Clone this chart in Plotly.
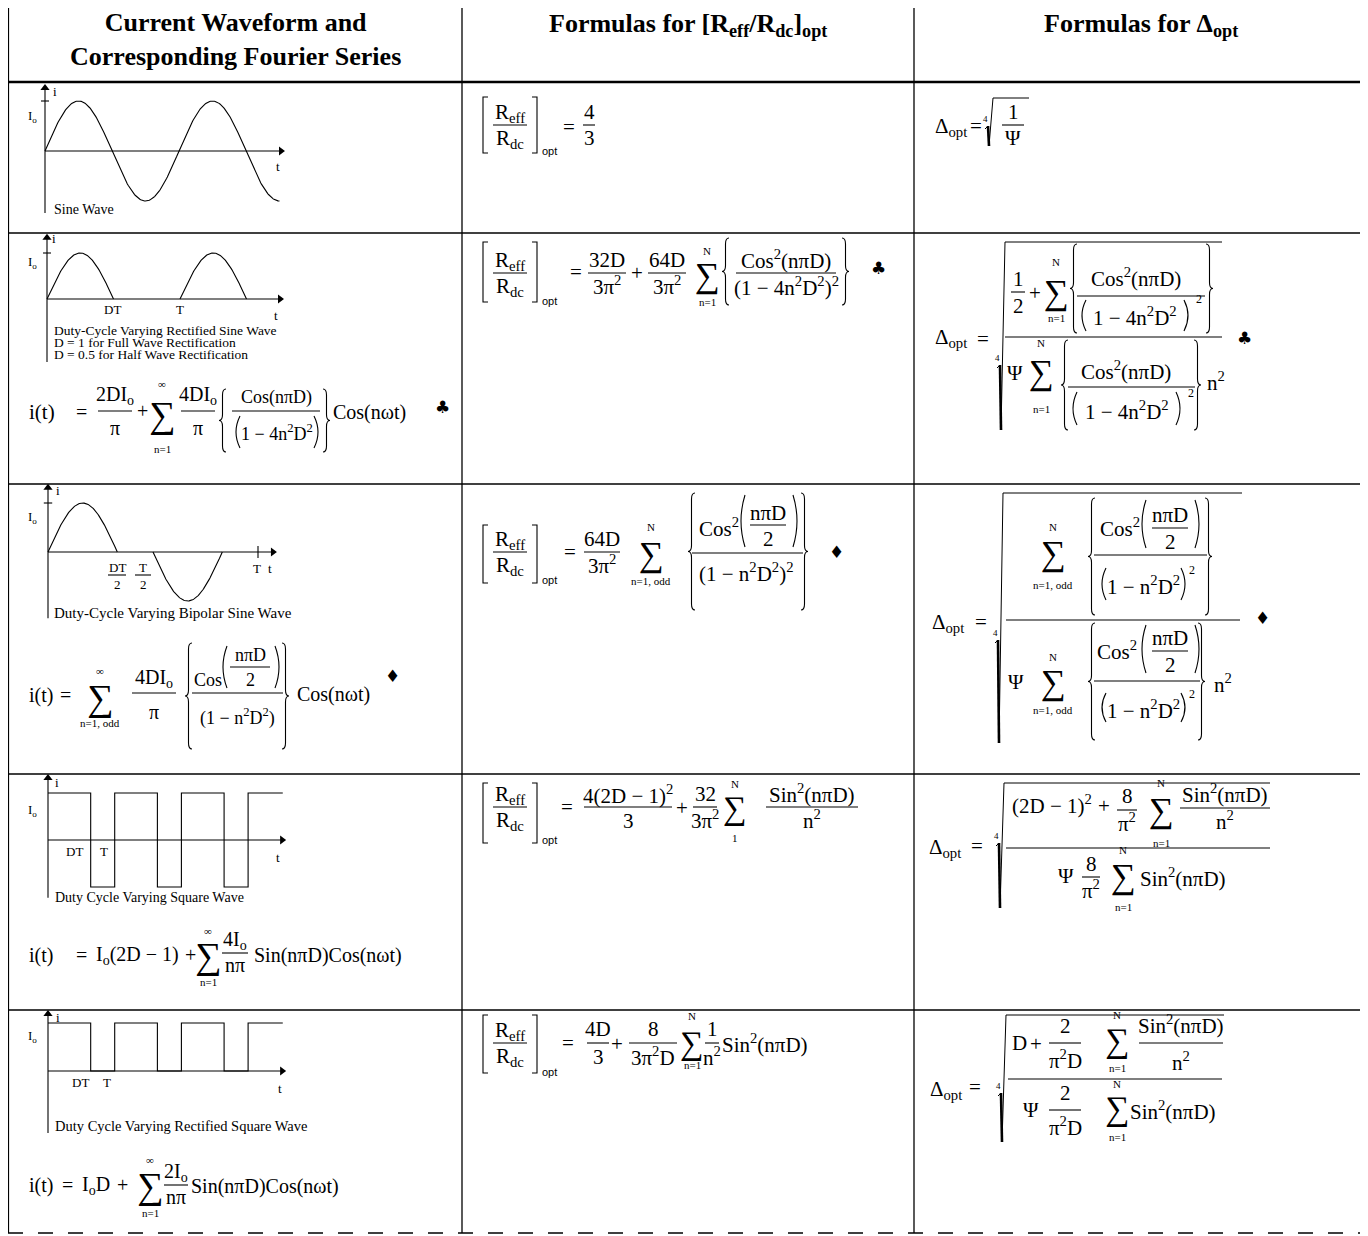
import numpy as np
import plotly.graph_objects as go

# page has an 8px body margin; the figure covers the rest of the window
OFF = 8
W, H = 1360, 1228

SERIF = "Liberation Serif"
SANS = "Liberation Sans"
SYM = "DejaVu Sans"
F = 21  # formula size, columns 2 and 3

# ---- table text
HEADERS = ["<b>Current Waveform and<br>Corresponding Fourier Series</b>",
           "<b>Formulas for [R<sub>eff</sub>/R<sub>dc</sub>]<sub>opt</sub></b>",
           "<b>Formulas for \u0394<sub>opt</sub></b>"]
CAPTIONS = ["Sine Wave",
            "Duty-Cycle Varying Rectified Sine Wave",
            "D = 1 for Full Wave Rectification",
            "D = 0.5 for Half Wave Rectification",
            "Duty-Cycle Varying Bipolar Sine Wave",
            "Duty Cycle Varying Square Wave",
            "Duty Cycle Varying Rectified Square Wave"]

# ---- waveform parameters (t in periods T, i in I_o)
SINE_END = 1.75          # sine drawn over 1.75 periods
RECT_D = 0.5             # rectified sine, duty cycle
RECT_HUMPS = [0, 1]      # hump start times
BIPOLAR_D = 0.66         # bipolar sine, duty cycle
SQUARE_D = 0.64          # square waves, duty cycle
SQUARE_PERIODS = 3
SQUARE_END = 3.52

# table grid (screen pixels)
COLS = [8, 462, 914, 1362]
ROWS = [6, 82, 233, 484, 774, 1010, 1233]

fig = go.Figure()
ann, shp = [], []
lay = {}

def txt(x, y, s, size=20, anchor="center", family=SERIF):
    ann.append(dict(x=x, y=y, xref="x", yref="y", text=s, showarrow=False,
                    xanchor=anchor, yanchor="middle",
                    font=dict(family=family, size=size, color="black")))

def path(d, w=1.1):
    shp.append(dict(type="path", path=d, xref="x", yref="y",
                    line=dict(color="black", width=w)))

def hline(x0, x1, y, w=1.1):
    shp.append(dict(type="line", x0=x0, x1=x1, y0=y, y1=y, xref="x", yref="y",
                    line=dict(color="black", width=w)))

def frac(cx, y, num, den, half, size=F, g1=13, g2=13):
    txt(cx, y - g1, num, size)
    hline(cx - half, cx + half, y)
    txt(cx, y + g2, den, size)

def sigma(cx, y, top, bot, ytop, ybot, size=35):
    # the summation glyph sits low in its box, lift it a little
    txt(cx, y - size * 0.1, "\u2211", size)
    txt(cx, ytop, top, 11)
    txt(cx, ybot, bot, 11)

def brace(x, y0, y1, side=1, w=7, r=6):
    ym = (y0 + y1) / 2
    m = x + side * w / 2
    e = x + side * w
    path(f"M{e},{y0} Q{m},{y0} {m},{y0 + r} L{m},{ym - r} Q{m},{ym} {x},{ym} "
         f"Q{m},{ym} {m},{ym + r} L{m},{y1 - r} Q{m},{y1} {e},{y1}")

def paren(x, y0, y1, side=1, w=4):
    ym = (y0 + y1) / 2
    path(f"M{x + side * w},{y0} Q{x - side * w},{ym} {x + side * w},{y1}")

def bracket(x, y0, y1, side=1, w=5):
    e = x + side * w
    path(f"M{e},{y0} L{x},{y0} L{x},{y1} L{e},{y1}")

def radical(x, ytop, ybot, xend, yidx):
    txt(x - 3, yidx - 7, "4", 9)
    path(f"M{x - 3},{yidx + 3} L{x},{yidx}", 1)
    path(f"M{x},{yidx} L{x + 1},{ybot}", 2.6)
    path(f"M{x + 1},{ybot} L{x + 5},{ytop} L{xend},{ytop}", 1)

def ratio(x0, y, y0, y1, yopt):
    bracket(x0, y0, y1, 1)
    frac(x0 + 27, y, "R<sub>eff</sub>", "R<sub>dc</sub>", 17, F, 12, 14)
    bracket(x0 + 54, y0, y1, -1)
    txt(x0 + 57, yopt, "opt", 11, "left", SANS)

def wave_axes(n, ox, oy, sx, sy, box):
    x0, x1, y0, y1 = box
    lay[f"xaxis{n}"] = dict(domain=[(x0 - OFF) / W, (x1 - OFF) / W],
                            range=[(x0 - ox) / sx, (x1 - ox) / sx],
                            visible=False, anchor=f"y{n}", fixedrange=True)
    lay[f"yaxis{n}"] = dict(domain=[1 - (y1 - OFF) / H, 1 - (y0 - OFF) / H],
                            range=[(oy - y1) / sy, (oy - y0) / sy],
                            visible=False, anchor=f"x{n}", fixedrange=True)

def line(n, x, y, w=1.1):
    fig.add_trace(go.Scatter(x=x, y=y, mode="lines", line=dict(color="black", width=w),
                             xaxis=f"x{n}", yaxis=f"y{n}", hoverinfo="skip", showlegend=False))

def arrows(n, tend, ibot, itop):
    line(n, [0, tend], [0, 0])
    line(n, [0, 0], [ibot, itop])
    fig.add_trace(go.Scatter(x=[tend, 0], y=[0, itop], mode="markers",
                             marker=dict(symbol=["triangle-right", "triangle-up"], size=8, color="black"),
                             xaxis=f"x{n}", yaxis=f"y{n}", hoverinfo="skip", showlegend=False,
                             cliponaxis=False))

def square_path(d, periods, end, low):
    ts, ys = [0], [1]
    for k in range(periods):
        ts += [k + d, k + d, k + 1, k + 1]
        ys += [1, low, low, 1]
    ts.append(end)
    ys.append(1)
    return ts, ys

# ---------------- grid
for x in COLS:
    w = 2.2 if x in (COLS[0], COLS[-1]) else 1.3
    shp.append(dict(type="line", x0=x, x1=x, y0=ROWS[0], y1=ROWS[-1], xref="x", yref="y",
                    line=dict(color="black", width=w)))
for y in ROWS:
    w = 2.4 if y in (ROWS[0], ROWS[1]) else 1.6
    shp.append(dict(type="line", x0=COLS[0], x1=COLS[-1], y0=y, y1=y, xref="x", yref="y",
                    line=dict(color="black", width=w, dash="longdash" if y == ROWS[-1] else "solid")))

# ---------------- header
txt(235, 39, HEADERS[0], 26)
txt(688, 25, HEADERS[1], 26)
txt(1141, 25, HEADERS[2], 26)

# ---------------- row 1: sine wave
wave_axes(2, 45, 151, 134, 50, (15, 295, 80, 225))
arrows(2, 1.761, -1.24, 1.26)
t = np.linspace(0, SINE_END, 300)
line(2, t, np.sin(2 * np.pi * t))
line(2, [-0.03, 0.03], [1, 1])
txt(55, 91, "i", 13)
txt(32, 116, "I<sub>o</sub>", 13)
txt(278, 166, "t", 13)
txt(52, 209, CAPTIONS[0], 14, "left")

ratio(483, 125, 97, 153, 151)
txt(569, 127, "=", F)
frac(589, 125, "4", "3", 6)

txt(951, 127, "\u0394<sub>opt</sub>", F)
txt(976, 126, "=", F)
radical(988, 98, 146, 1029, 126)
frac(1013, 125, "1", "\u03a8", 11)

# ---------------- row 2: rectified sine
wave_axes(3, 47, 299, 133, 46, (15, 295, 233, 370))
arrows(3, 1.752, -1.37, 1.33)
for k in RECT_HUMPS:
    t = np.linspace(k, k + RECT_D, 120)
    line(3, t, np.sin(np.pi * (t - k) / RECT_D))
line(3, [-0.03, 0.03], [1, 1])
txt(54, 238, "i", 13)
txt(32, 262, "I<sub>o</sub>", 13)
txt(112, 309, "DT", 13)
txt(180, 309, "T", 13)
txt(276, 315, "t", 13)
txt(52, 330, CAPTIONS[1], 13.5, "left")
txt(52, 342, CAPTIONS[2], 13.5, "left")
txt(52, 354, CAPTIONS[3], 13.5, "left")

txt(27, 412, "i(t)", 21, "left")
txt(81, 412, "=", 20)
frac(115, 411, "2DI<sub>o</sub>", "\u03c0", 17, 20, 16, 17)
txt(142, 411, "+", 20)
sigma(162, 418, "\u221e", "n=1", 384, 449, 37)
frac(198, 411, "4DI<sub>o</sub>", "\u03c0", 17, 20, 16, 17)
brace(219, 389, 452, 1)
frac(276, 411, "Cos(n\u03c0D)", "", 44, 18, 14, 0)
paren(236, 416, 448, 1)
paren(318, 416, 448, -1)
txt(277, 432, "1 \u2212 4n<sup>2</sup>D<sup>2</sup>", 18)
brace(330, 389, 452, -1)
txt(331, 412, "Cos(n\u03c9t)", 20, "left")
txt(442, 407, "\u2663", 17, family=SYM)

ratio(483, 273, 242, 302, 301)
txt(576, 272, "=", F)
frac(607, 273, "32D", "3\u03c0<sup>2</sup>", 19, F, 13, 12)
txt(637, 273, "+", F)
frac(667, 273, "64D", "3\u03c0<sup>2</sup>", 19, F, 13, 12)
sigma(707, 279, "N", "n=1", 251, 302)
brace(722, 238, 305, 1)
frac(786, 273, "Cos<sup>2</sup>(n\u03c0D)", "(1 \u2212 4n<sup>2</sup>D<sup>2</sup>)<sup>2</sup>", 50, F, 14, 13)
brace(849, 238, 305, -1)
txt(878, 268, "\u2663", 17, family=SYM)

txt(951, 338, "\u0394<sub>opt</sub>", F)
txt(983, 339, "=", F)
radical(1000, 242, 430, 1222, 365)
hline(1005, 1222, 337)
frac(1018, 292, "1", "2", 7, F, 13, 14)
txt(1035, 293, "+", F)
sigma(1056, 296, "N", "n=1", 262, 318)
brace(1070, 244, 333, 1)
txt(1136, 277, "Cos<sup>2</sup>(n\u03c0D)", F)
hline(1077, 1205, 296)
paren(1082, 300, 331, 1)
paren(1188, 300, 331, -1)
txt(1135, 316, "1 \u2212 4n<sup>2</sup>D<sup>2</sup>", F)
txt(1199, 299, "2", 12)
brace(1213, 244, 333, -1)
txt(1015, 373, "\u03a8", F)
sigma(1041, 376, "N", "n=1", 343, 409)
brace(1061, 340, 430, 1)
txt(1126, 370, "Cos<sup>2</sup>(n\u03c0D)", F)
hline(1068, 1195, 387)
paren(1073, 392, 425, 1)
paren(1180, 392, 425, -1)
txt(1127, 410, "1 \u2212 4n<sup>2</sup>D<sup>2</sup>", F)
txt(1191, 393, "2", 12)
brace(1201, 340, 430, -1)
txt(1205, 381, "n<sup>2</sup>", F, "left")
txt(1244, 338, "\u2663", 17, family=SYM)

# ---------------- row 3: bipolar sine
wave_axes(4, 48, 552, 210, 49, (15, 295, 484, 625))
arrows(4, 1.071, -1.35, 1.31)
half = BIPOLAR_D / 2
t = np.linspace(0, half, 120)
line(4, t, np.sin(np.pi * t / half))
t = np.linspace(0.5, 0.5 + half, 120)
line(4, t, -np.sin(np.pi * (t - 0.5) / half))
line(4, [-0.02, 0.02], [1, 1])
line(4, [1, 1], [-0.12, 0.12])
txt(58, 490, "i", 13)
txt(32, 517, "I<sub>o</sub>", 13)
frac(117, 575, "DT", "2", 9, 13, 8, 9)
frac(143, 575, "T", "2", 8, 13, 8, 9)
txt(257, 568, "T", 13)
txt(270, 568, "t", 13)
txt(52, 613, CAPTIONS[4], 15, "left")

txt(27, 695, "i(t)", 20, "left")
txt(65, 695, "=", 20)
sigma(100, 701, "\u221e", "n=1, odd", 671, 723, 37)
frac(154, 693, "4DI<sub>o</sub>", "\u03c0", 22, 20, 15, 19)
brace(185, 643, 749, 1)
txt(192, 680, "Cos", 18, "left")
paren(223, 646, 688, 1)
frac(250, 667, "n\u03c0D", "2", 20, 18, 12, 13)
paren(279, 646, 688, -1)
hline(192, 283, 693)
txt(237, 717, "(1 \u2212 n<sup>2</sup>D<sup>2</sup>)", 18)
brace(289, 643, 749, -1)
txt(295, 694, "Cos(n\u03c9t)", 20, "left")
txt(392, 676, "\u2666", 17, family=SYM)

ratio(483, 552, 525, 583, 580)
txt(570, 552, "=", F)
frac(602, 552, "64D", "3\u03c0<sup>2</sup>", 18, F, 13, 12)
sigma(651, 558, "N", "n=1, odd", 527, 581)
brace(688, 493, 610, 1)
txt(697, 527, "Cos<sup>2</sup>", F, "left")
paren(741, 495, 547, 1)
frac(768, 525, "n\u03c0D", "2", 18, F, 12, 14)
paren(797, 495, 547, -1)
hline(692, 803, 553)
txt(746, 572, "(1 \u2212 n<sup>2</sup>D<sup>2</sup>)<sup>2</sup>", F)
brace(808, 493, 610, -1)
txt(836, 552, "\u2666", 17, family=SYM)

txt(948, 623, "\u0394<sub>opt</sub>", F)
txt(981, 622, "=", F)
radical(998, 493, 743, 1242, 640)
hline(1006, 1240, 620)
sigma(1053, 557, "N", "n=1, odd", 527, 585)
brace(1088, 498, 615, 1)
txt(1098, 527, "Cos<sup>2</sup>", F, "left")
paren(1142, 500, 548, 1)
frac(1170, 528, "n\u03c0D", "2", 18, F, 13, 14)
paren(1199, 500, 548, -1)
hline(1094, 1207, 555)
paren(1102, 568, 600, 1)
txt(1143, 585, "1 \u2212 n<sup>2</sup>D<sup>2</sup>", F)
paren(1185, 568, 600, -1)
txt(1192, 570, "2", 12)
brace(1212, 498, 615, -1)
txt(1016, 682, "\u03a8", F)
sigma(1053, 686, "N", "n=1, odd", 657, 710)
brace(1088, 623, 740, 1)
txt(1095, 650, "Cos<sup>2</sup>", F, "left")
paren(1142, 625, 673, 1)
frac(1170, 651, "n\u03c0D", "2", 18, F, 13, 14)
paren(1199, 625, 673, -1)
hline(1094, 1200, 681)
paren(1102, 693, 722, 1)
txt(1143, 709, "1 \u2212 n<sup>2</sup>D<sup>2</sup>", F)
paren(1185, 693, 722, -1)
txt(1192, 694, "2", 12)
brace(1205, 623, 740, -1)
txt(1212, 683, "n<sup>2</sup>", F, "left")
txt(1262, 618, "\u2666", 17, family=SYM)

# ---------------- row 4: square wave
wave_axes(5, 48, 840, 66.7, 47, (15, 295, 774, 905))
arrows(5, 3.51, -1.23, 1.32)
ts, ys = square_path(SQUARE_D, SQUARE_PERIODS, SQUARE_END, -1)
line(5, ts, ys)
txt(57, 782, "i", 13)
txt(32, 810, "I<sub>o</sub>", 13)
txt(74, 851, "DT", 13)
txt(104, 851, "T", 13)
txt(278, 857, "t", 13)
txt(53, 897, CAPTIONS[5], 14, "left")

txt(27, 955, "i(t)", 20, "left")
txt(81, 955, "=", 20)
txt(94, 955, "I<sub>o</sub>(2D \u2212 1)", 20, "left")
txt(190, 955, "+", 20)
sigma(208, 959, "\u221e", "n=1", 931, 982, 37)
frac(235, 953, "4I<sub>o</sub>", "n\u03c0", 13, 20, 13, 12)
txt(252, 955, "Sin(n\u03c0D)Cos(n\u03c9t)", 20, "left")

ratio(483, 807, 783, 843, 840)
txt(567, 807, "=", F)
frac(628, 807, "4(2D \u2212 1)<sup>2</sup>", "3", 44, F, 13, 14)
txt(682, 808, "+", F)
frac(705, 807, "32", "3\u03c0<sup>2</sup>", 12, F, 13, 12)
sigma(735, 812, "N", "1", 784, 838, 33)
frac(812, 807, "Sin<sup>2</sup>(n\u03c0D)", "n<sup>2</sup>", 46, F, 14, 12)

txt(945, 848, "\u0394<sub>opt</sub>", F)
txt(977, 846, "=", F)
radical(999, 783, 908, 1270, 843)
hline(1006, 1270, 848)
txt(1052, 804, "(2D \u2212 1)<sup>2</sup>", F)
txt(1104, 806, "+", F)
frac(1127, 810, "8", "\u03c0<sup>2</sup>", 10, F, 14, 12)
sigma(1161, 814, "N", "n=1", 783, 843)
frac(1225, 808, "Sin<sup>2</sup>(n\u03c0D)", "n<sup>2</sup>", 45, F, 15, 12)
txt(1066, 876, "\u03a8", F)
frac(1091, 877, "8", "\u03c0<sup>2</sup>", 9, F, 13, 12)
sigma(1123, 880, "N", "n=1", 850, 907)
txt(1138, 877, "Sin<sup>2</sup>(n\u03c0D)", F, "left")

# ---------------- row 5: rectified square wave
wave_axes(6, 48, 1071, 66.7, 48, (15, 295, 1010, 1140))
arrows(6, 3.51, -1.29, 1.19)
ts, ys = square_path(SQUARE_D, SQUARE_PERIODS, SQUARE_END, 0)
line(6, ts, ys)
txt(58, 1017, "i", 13)
txt(32, 1036, "I<sub>o</sub>", 13)
txt(80, 1082, "DT", 13)
txt(107, 1082, "T", 13)
txt(280, 1088, "t", 13)
txt(53, 1126, CAPTIONS[6], 14.5, "left")

txt(27, 1185, "i(t)", 20, "left")
txt(67, 1185, "=", 20)
txt(80, 1185, "I<sub>o</sub>D", 20, "left")
txt(122, 1185, "+", 20)
sigma(150, 1189, "\u221e", "n=1", 1160, 1213, 37)
frac(176, 1185, "2I<sub>o</sub>", "n\u03c0", 12, 20, 13, 12)
txt(189, 1186, "Sin(n\u03c0D)Cos(n\u03c9t)", 20, "left")

ratio(483, 1043, 1015, 1073, 1072)
txt(568, 1043, "=", F)
frac(598, 1043, "4D", "3", 11, F, 14, 14)
txt(617, 1044, "+", F)
frac(653, 1043, "8", "3\u03c0<sup>2</sup>D", 24, F, 14, 13)
sigma(692, 1047, "N", "n=1", 1016, 1065, 33)
frac(712, 1043, "1", "n<sup>2</sup>", 7, F, 14, 13)
txt(720, 1043, "Sin<sup>2</sup>(n\u03c0D)", F, "left")

txt(946, 1090, "\u0394<sub>opt</sub>", F)
txt(975, 1087, "=", F)
radical(1001, 1015, 1142, 1224, 1093)
hline(1008, 1222, 1079)
txt(1019, 1043, "D", F)
txt(1036, 1044, "+", F)
frac(1065, 1043, "2", "\u03c0<sup>2</sup>D", 16, F, 17, 16)
sigma(1117, 1044, "N", "n=1", 1015, 1068, 34)
frac(1181, 1043, "Sin<sup>2</sup>(n\u03c0D)", "n<sup>2</sup>", 42, F, 19, 18)
txt(1031, 1110, "\u03a8", F)
frac(1065, 1110, "2", "\u03c0<sup>2</sup>D", 16, F, 17, 16)
sigma(1117, 1112, "N", "n=1", 1084, 1137, 34)
txt(1128, 1110, "Sin<sup>2</sup>(n\u03c0D)", F, "left")

# ---------------- base overlay axis in screen-pixel units
fig.add_trace(go.Scatter(x=[100], y=[100], mode="markers", marker=dict(opacity=0),
                         hoverinfo="skip", showlegend=False))
fig.update_layout(
    width=W, height=H, margin=dict(l=0, r=0, t=0, b=0),
    paper_bgcolor="white", plot_bgcolor="white", showlegend=False,
    xaxis=dict(range=[OFF, OFF + W], visible=False, fixedrange=True, domain=[0, 1]),
    yaxis=dict(range=[OFF + H, OFF], visible=False, fixedrange=True, domain=[0, 1]),
    annotations=ann, shapes=shp, **lay)

fig.write_html("out.html")
